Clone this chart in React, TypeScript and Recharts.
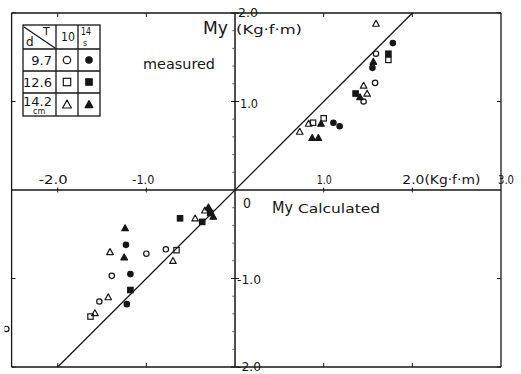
import React from 'react';
import {
  ScatterChart,
  Scatter,
  XAxis,
  YAxis,
  ReferenceLine,
  ReferenceDot,
  Customized,
} from 'recharts';

// ---- measured vs calculated My (Kg·f·m) ----
// circles: d = 9.7 cm, squares: d = 12.6 cm, triangles: d = 14.2 cm
// open marks: T = 10 s, filled marks: T = 14 s
const circleT10 = [
  { x: 1.59, y: 1.54 }, { x: 1.58, y: 1.21 }, { x: 1.45, y: 1.0 },
  { x: -0.78, y: -0.67 }, { x: -1.0, y: -0.72 }, { x: -1.39, y: -0.97 },
  { x: -1.53, y: -1.26 }, { x: -2.58, y: -1.57 },
];
const circleT14 = [
  { x: 1.78, y: 1.66 }, { x: 1.55, y: 1.38 }, { x: 1.11, y: 0.76 },
  { x: 1.18, y: 0.72 }, { x: -1.23, y: -0.62 }, { x: -1.18, y: -0.95 },
  { x: -1.22, y: -1.29 },
];
const squareT10 = [
  { x: 1.73, y: 1.47 }, { x: 0.88, y: 0.76 }, { x: 1.0, y: 0.81 },
  { x: -0.66, y: -0.68 }, { x: -1.63, y: -1.43 },
];
const squareT14 = [
  { x: 1.73, y: 1.54 }, { x: 1.36, y: 1.09 }, { x: -0.28, y: -0.26 },
  { x: -0.37, y: -0.36 }, { x: -0.62, y: -0.32 }, { x: -1.18, y: -1.13 },
];
const triangleT10 = [
  { x: 1.59, y: 1.88 }, { x: 1.45, y: 1.18 }, { x: 1.49, y: 1.09 },
  { x: 0.73, y: 0.66 }, { x: 0.83, y: 0.75 }, { x: -0.34, y: -0.23 },
  { x: -0.45, y: -0.32 }, { x: -0.7, y: -0.8 }, { x: -1.41, y: -0.7 },
  { x: -1.43, y: -1.21 }, { x: -1.58, y: -1.39 },
];
const triangleT14 = [
  { x: 1.56, y: 1.45 }, { x: 1.41, y: 1.05 }, { x: 0.97, y: 0.75 },
  { x: 0.87, y: 0.59 }, { x: 0.94, y: 0.59 }, { x: -0.3, y: -0.195 },
  { x: -0.245, y: -0.3 }, { x: -1.24, y: -0.43 }, { x: -1.25, y: -0.76 },
];

// agreement line My measured = My calculated
const identityLine = [{ x: -2, y: -2 }, { x: 2, y: 2 }];

// axis ticks and their labels
const xTickValues = [-2, -1, 1, 2];
const yTickValues = [-2, -1, 1, 2];
const xTickLabels = [
  { v: -2, text: '-2.0', dx: -19, w: 29 },
  { v: -1, text: '-1.0', dx: -14, w: 22 },
  { v: 1, text: '1.0', dx: -7, w: 15 },
  { v: 2, text: '2.0(Kg·f·m)', dx: -10, w: 78 },
  { v: 3, text: '3.0', dx: -3, w: 16 },
];
const yTickLabels = [
  { v: 2, text: '2.0', dx: 3, dy: 4, w: 20 },
  { v: 1, text: '1.0', dx: 5, dy: 6, w: 18 },
  { v: -1, text: '-1.0', dx: 2, dy: 5, w: 24 },
  { v: -2, text: '-2.0', dx: 2, dy: 4, w: 24 },
];

// legend table contents
const legendDiameters = ['9.7', '12.6', '14.2'];
const legendKinds: Kind[] = ['circle', 'square', 'triangle'];
const legendPeriods = ['10', '14'];

const X_DOMAIN: [number, number] = [-2.6, 3.0];
const Y_DOMAIN: [number, number] = [-2, 2];
const FRAME = { left: -2.52, right: 3.0, bottom: -2, top: 2 };

const INK = '#161616';
const FONT = '"DejaVu Sans", "Noto Sans", sans-serif';

type Kind = 'circle' | 'square' | 'triangle';

function Marker({ cx, cy, kind, filled, size = 6 }: { cx: number; cy: number; kind: Kind; filled: boolean; size?: number }) {
  const fill = filled ? INK : 'none';
  const sw = 1.2;
  if (kind === 'circle') {
    return <circle cx={cx} cy={cy} r={size / 2 - 0.3} fill={fill} stroke={INK} strokeWidth={sw} />;
  }
  if (kind === 'square') {
    const s = size - 0.6;
    return <rect x={cx - s / 2} y={cy - s / 2} width={s} height={s} fill={fill} stroke={INK} strokeWidth={sw} />;
  }
  const h = size * 0.55;
  return (
    <path
      d={`M${cx},${cy - h} L${cx + h},${cy + h * 0.8} L${cx - h},${cy + h * 0.8} Z`}
      fill={fill}
      stroke={INK}
      strokeWidth={sw}
      strokeLinejoin="round"
    />
  );
}

const markerShape = (kind: Kind, filled: boolean) => (p: any) =>
  <Marker cx={p.cx} cy={p.cy} kind={kind} filled={filled} />;

// text placed relative to a data-space anchor
const textShape = (text: string, dx: number, dy: number, size: number, width?: number) => (p: any) => (
  <text
    x={p.cx + dx}
    y={p.cy + dy}
    fontSize={size}
    fontFamily={FONT}
    fill={INK}
    textLength={width}
    lengthAdjust={width ? 'spacingAndGlyphs' : undefined}
  >
    {text}
  </text>
);

function LegendTable() {
  const cols = [23, 56, 78, 100];
  const rows = [25, 49, 71, 93, 116];
  const lineProps = { stroke: INK, strokeWidth: 1.3 };
  const txt = { fontFamily: FONT, fill: INK } as const;
  return (
    <g>
      <rect x={cols[0]} y={rows[0]} width={cols[3] - cols[0]} height={rows[4] - rows[0]} fill="none" {...lineProps} />
      {cols.slice(1, 3).map((c) => (
        <line key={c} x1={c} x2={c} y1={rows[0]} y2={rows[4]} {...lineProps} />
      ))}
      {rows.slice(1, 4).map((r) => (
        <line key={r} x1={cols[0]} x2={cols[3]} y1={r} y2={r} {...lineProps} />
      ))}
      <line x1={cols[0] + 1} y1={rows[0] + 2} x2={cols[1] - 1} y2={rows[1] - 1} {...lineProps} />
      <text x={26} y={46} fontSize={12} {...txt}>d</text>
      <text x={43} y={35} fontSize={11} {...txt}>T</text>
      <text x={61} y={41} fontSize={13} textLength={14} lengthAdjust="spacingAndGlyphs" {...txt}>{legendPeriods[0]}</text>
      <text x={81} y={35} fontSize={11} textLength={10} lengthAdjust="spacingAndGlyphs" {...txt}>{legendPeriods[1]}</text>
      <text x={83} y={46} fontSize={8} {...txt}>s</text>
      {legendDiameters.map((d, i) => {
        const top = rows[i + 1];
        const mid = (top + rows[i + 2]) / 2;
        return (
          <g key={d}>
            <text
              x={cols[1] - 4}
              y={i === 2 ? mid + 1 : mid + 5}
              fontSize={13}
              textAnchor="end"
              {...txt}
            >
              {d}
            </text>
            <Marker cx={(cols[1] + cols[2]) / 2} cy={mid} kind={legendKinds[i]} filled={false} size={8} />
            <Marker cx={(cols[2] + cols[3]) / 2} cy={mid} kind={legendKinds[i]} filled={true} size={7} />
          </g>
        );
      })}
      <text x={33} y={114} fontSize={8} {...txt}>cm</text>
    </g>
  );
}

const TICK_X = 0.045;
const TICK_Y = 0.045;
const minorY = [-1.8, -1.6, -1.4, -1.2, -0.8, -0.6, -0.4, -0.2, 0.2, 0.4, 0.6, 0.8, 1.2, 1.4, 1.6, 1.8];

export default function App() {
  const frameStyle = { stroke: INK, strokeWidth: 1.3, ifOverflow: 'visible' as const };
  return (
    <div style={{ position: 'absolute', left: 0, top: 0, background: '#fff' }}>
      <ScatterChart width={521} height={374} margin={{ top: 13, right: 20, bottom: 7, left: 4.5 }}>
        <XAxis type="number" dataKey="x" domain={X_DOMAIN} allowDataOverflow hide />
        <YAxis type="number" dataKey="y" domain={Y_DOMAIN} allowDataOverflow hide />

        {/* outer frame */}
        <ReferenceLine segment={[{ x: FRAME.left, y: FRAME.top }, { x: FRAME.right, y: FRAME.top }]} {...frameStyle} />
        <ReferenceLine segment={[{ x: FRAME.left, y: FRAME.bottom }, { x: FRAME.right, y: FRAME.bottom }]} {...frameStyle} />
        <ReferenceLine segment={[{ x: FRAME.left, y: FRAME.bottom }, { x: FRAME.left, y: FRAME.top }]} {...frameStyle} />
        <ReferenceLine segment={[{ x: FRAME.right, y: FRAME.bottom }, { x: FRAME.right, y: FRAME.top }]} {...frameStyle} />

        {/* axes through the origin */}
        <ReferenceLine segment={[{ x: FRAME.left, y: 0 }, { x: FRAME.right, y: 0 }]} stroke={INK} strokeWidth={1.3} ifOverflow="visible" />
        <ReferenceLine segment={[{ x: 0, y: FRAME.bottom }, { x: 0, y: FRAME.top }]} stroke="#333" strokeWidth={1.7} ifOverflow="visible" />

        {/* ticks on axes and frame */}
        {xTickValues.map((v) => (
          <ReferenceLine key={`xa${v}`} segment={[{ x: v, y: -TICK_Y * 0.6 }, { x: v, y: TICK_Y * 0.6 }]} stroke={INK} strokeWidth={1} ifOverflow="visible" />
        ))}
        {xTickValues.map((v) => (
          <ReferenceLine key={`xt${v}`} segment={[{ x: v, y: FRAME.top }, { x: v, y: FRAME.top - TICK_Y }]} stroke={INK} strokeWidth={1} ifOverflow="visible" />
        ))}
        {xTickValues.map((v) => (
          <ReferenceLine key={`xb${v}`} segment={[{ x: v, y: FRAME.bottom }, { x: v, y: FRAME.bottom + TICK_Y }]} stroke={INK} strokeWidth={1} ifOverflow="visible" />
        ))}
        {yTickValues.map((v) => (
          <ReferenceLine key={`ya${v}`} segment={[{ x: -TICK_X, y: v }, { x: TICK_X, y: v }]} stroke={INK} strokeWidth={1} ifOverflow="visible" />
        ))}
        {yTickValues.map((v) => (
          <ReferenceLine key={`yl${v}`} segment={[{ x: FRAME.left, y: v }, { x: FRAME.left + TICK_X, y: v }]} stroke={INK} strokeWidth={1} ifOverflow="visible" />
        ))}
        {yTickValues.map((v) => (
          <ReferenceLine key={`yr${v}`} segment={[{ x: FRAME.right, y: v }, { x: FRAME.right - TICK_X, y: v }]} stroke={INK} strokeWidth={1} ifOverflow="visible" />
        ))}
        {minorY.map((v) => (
          <ReferenceLine key={`ym${v}`} segment={[{ x: -TICK_X * 0.7, y: v }, { x: 0, y: v }]} stroke="#444" strokeWidth={0.8} ifOverflow="visible" />
        ))}

        {/* My measured = My calculated */}
        <ReferenceLine segment={identityLine} stroke={INK} strokeWidth={1.3} ifOverflow="visible" />

        {/* tick labels */}
        {xTickLabels.map((t) => (
          <ReferenceDot key={`xl${t.v}`} x={t.v} y={0} r={0} ifOverflow="visible" shape={textShape(t.text, t.dx, -6, 13, t.w)} />
        ))}
        {yTickLabels.map((t) => (
          <ReferenceDot key={`yl${t.v}`} x={0} y={t.v} r={0} ifOverflow="visible" shape={textShape(t.text, t.dx, t.dy, 13, t.w)} />
        ))}
        <ReferenceDot x={0} y={0} r={0} ifOverflow="visible" shape={textShape('0', 8, 18, 14, 8)} />

        {/* axis titles */}
        <ReferenceDot x={0} y={2} r={0} ifOverflow="visible" shape={textShape('My', -32, 21, 17, 25)} />
        <ReferenceDot x={0} y={2} r={0} ifOverflow="visible" shape={textShape('(Kg·f·m)', 1, 21, 13, 66)} />
        <ReferenceDot x={0} y={2} r={0} ifOverflow="visible" shape={textShape('measured', -92, 56, 14, 72)} />
        <ReferenceDot x={0} y={0} r={0} ifOverflow="visible" shape={textShape('My', 37, 23, 16, 21)} />
        <ReferenceDot x={0} y={0} r={0} ifOverflow="visible" shape={textShape('Calculated', 63, 23, 13, 82)} />

        <Scatter data={circleT10} isAnimationActive={false} shape={markerShape('circle', false)} />
        <Scatter data={circleT14} isAnimationActive={false} shape={markerShape('circle', true)} />
        <Scatter data={squareT10} isAnimationActive={false} shape={markerShape('square', false)} />
        <Scatter data={squareT14} isAnimationActive={false} shape={markerShape('square', true)} />
        <Scatter data={triangleT10} isAnimationActive={false} shape={markerShape('triangle', false)} />
        <Scatter data={triangleT14} isAnimationActive={false} shape={markerShape('triangle', true)} />

        <Customized component={<LegendTable />} />
      </ScatterChart>
    </div>
  );
}
